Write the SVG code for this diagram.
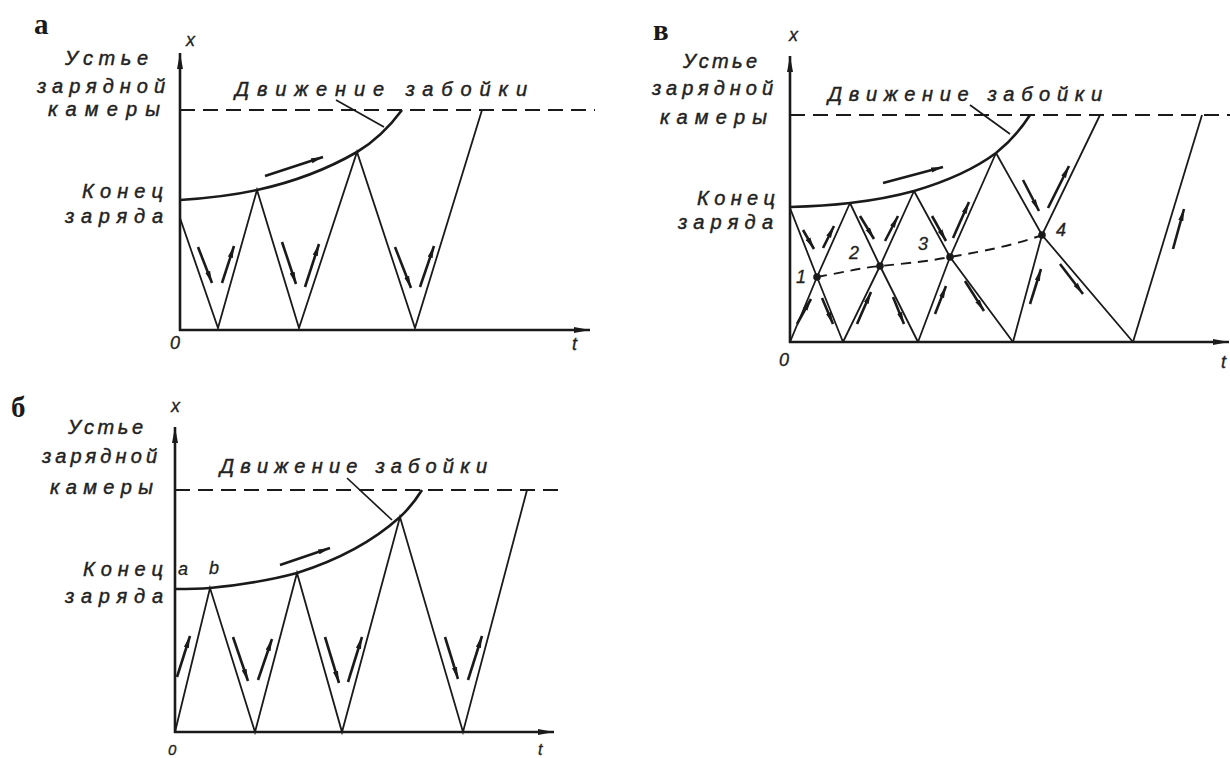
<svg xmlns="http://www.w3.org/2000/svg" width="1230" height="758" viewBox="0 0 1230 758">
<style>
  .bg{fill:#ffffff}
  .ax{stroke:#1a1a1a;stroke-width:2.6;fill:none;marker-end:url(#axh)}
  .dash{stroke:#1a1a1a;stroke-width:2.2;fill:none;stroke-dasharray:15 8}
  .cur{stroke:#1a1a1a;stroke-width:2.6;fill:none}
  .zz{stroke:#1a1a1a;stroke-width:1.8;fill:none;stroke-linejoin:miter}
  .ld{stroke:#1a1a1a;stroke-width:1.7;fill:none}
  .sa{stroke:#1a1a1a;stroke-width:2.6;fill:none;marker-end:url(#sah)}
  .dc{stroke:#1a1a1a;stroke-width:1.9;fill:none;stroke-dasharray:10 7}
  .dot{fill:#1a1a1a}
  .lbl{font-family:"Liberation Sans","DejaVu Sans",sans-serif;font-style:italic;font-size:20px;fill:#222222;stroke:#222222;stroke-width:0.45}
  .num{font-family:"Liberation Sans","DejaVu Sans",sans-serif;font-style:italic;font-size:18px;fill:#222222;stroke:#222222;stroke-width:0.3}
  .pan{font-family:"Liberation Serif","DejaVu Serif",serif;font-size:29px;font-weight:bold;fill:#1a1a1a}
</style>
<defs>
  <marker id="axh" markerUnits="userSpaceOnUse" markerWidth="16" markerHeight="8" refX="16" refY="4" orient="auto">
    <path d="M0,1 L16,4 L0,7 z" fill="#1a1a1a"/>
  </marker>
  <marker id="sah" markerUnits="userSpaceOnUse" markerWidth="12" markerHeight="6" refX="12" refY="3" orient="auto">
    <path d="M0,0.4 L12,3 L0,5.6 z" fill="#1a1a1a"/>
  </marker>
</defs>
<rect class="bg" x="0" y="0" width="1230" height="758"/>

<!-- Panel а -->
<g id="panel-a">
  <text class="pan" x="34" y="34">а</text>
  <text class="num" x="186" y="46">x</text>
  <text class="lbl" x="65" y="65" textLength="83" lengthAdjust="spacing">Устье</text>
  <text class="lbl" x="37" y="93" textLength="128" lengthAdjust="spacing">зарядной</text>
  <text class="lbl" x="48" y="116" textLength="112" lengthAdjust="spacing">камеры</text>
  <text class="lbl" x="82" y="198" textLength="81" lengthAdjust="spacing">Конец</text>
  <text class="lbl" x="65" y="223" textLength="98" lengthAdjust="spacing">заряда</text>
  <text class="lbl" x="235" y="96" textLength="292" lengthAdjust="spacing">Движение  забойки</text>
  <text class="num" x="170" y="349">0</text>
  <text class="num" x="572" y="350">t</text>
  <line class="ax" x1="180" y1="331" x2="180" y2="53"/>
  <line class="ax" x1="179" y1="330" x2="590" y2="330"/>
  <line class="dash" x1="180" y1="110" x2="595" y2="110"/>
  <path class="cur" d="M180,200 Q225,197 257,190 Q312,178 357,152 Q382,137 402,110"/>
  <polyline class="zz" points="180,218 218,328 257,190 299,328 357,152 415,328 482,110"/>
  <line class="ld" x1="336" y1="100" x2="384" y2="127"/>
  <line class="sa" x1="265" y1="176" x2="323" y2="157"/>
  <line class="sa" x1="198" y1="247" x2="212" y2="283"/>
  <line class="sa" x1="222" y1="283" x2="234" y2="246"/>
  <line class="sa" x1="282" y1="242" x2="296" y2="284"/>
  <line class="sa" x1="305" y1="287" x2="319" y2="244"/>
  <line class="sa" x1="395" y1="247" x2="411" y2="288"/>
  <line class="sa" x1="420" y1="287" x2="434" y2="246"/>
</g>

<!-- Panel б -->
<g id="panel-b">
  <text class="pan" x="11" y="417">б</text>
  <text class="num" x="171" y="412">x</text>
  <text class="lbl" x="68" y="434" textLength="75" lengthAdjust="spacing">Устье</text>
  <text class="lbl" x="42" y="463" textLength="115" lengthAdjust="spacing">зарядной</text>
  <text class="lbl" x="50" y="494" textLength="103" lengthAdjust="spacing">камеры</text>
  <text class="lbl" x="83" y="576" textLength="80" lengthAdjust="spacing">Конец</text>
  <text class="lbl" x="65" y="603" textLength="98" lengthAdjust="spacing">заряда</text>
  <text class="lbl" x="220" y="473" textLength="267" lengthAdjust="spacing">Движение  забойки</text>
  <text class="num" x="178" y="575">a</text>
  <text class="num" x="209" y="574">b</text>
  <text class="num" x="168" y="755" style="font-size:15px">0</text>
  <text class="num" x="538" y="755" style="font-size:16px">t</text>
  <line class="ax" x1="175" y1="733" x2="175" y2="427"/>
  <line class="ax" x1="174" y1="732" x2="554" y2="732"/>
  <line class="dash" x1="175" y1="490" x2="565" y2="490"/>
  <path class="cur" d="M175,589 C195,589 204,588.5 210,588 Q260,583 297,573 Q360,553 400,517 Q412,506 422,490"/>
  <polyline class="zz" points="175,732 210,588 255,732 297,573 342,732 400,517 463,732 527,490"/>
  <line class="ld" x1="347" y1="478" x2="392" y2="520"/>
  <line class="sa" x1="280" y1="565" x2="330" y2="548"/>
  <line class="sa" x1="177" y1="677" x2="190" y2="636"/>
  <line class="sa" x1="233" y1="637" x2="248" y2="681"/>
  <line class="sa" x1="258" y1="680" x2="272" y2="639"/>
  <line class="sa" x1="325" y1="637" x2="339" y2="683"/>
  <line class="sa" x1="348" y1="682" x2="362" y2="637"/>
  <line class="sa" x1="445" y1="637" x2="458" y2="679"/>
  <line class="sa" x1="468" y1="680" x2="482" y2="636"/>
</g>

<!-- Panel в -->
<g id="panel-v">
  <text class="pan" x="653" y="40">в</text>
  <text class="num" x="789" y="41">x</text>
  <text class="lbl" x="683" y="68" textLength="74" lengthAdjust="spacing">Устье</text>
  <text class="lbl" x="652" y="95" textLength="121" lengthAdjust="spacing">зарядной</text>
  <text class="lbl" x="660" y="124" textLength="107" lengthAdjust="spacing">камеры</text>
  <text class="lbl" x="697" y="205" textLength="78" lengthAdjust="spacing">Конец</text>
  <text class="lbl" x="678" y="229" textLength="95" lengthAdjust="spacing">заряда</text>
  <text class="lbl" x="828" y="101" textLength="274" lengthAdjust="spacing">Движение  забойки</text>
  <text class="num" x="779" y="366">0</text>
  <text class="num" x="1221" y="368">t</text>
  <line class="ax" x1="790" y1="343" x2="790" y2="56"/>
  <line class="ax" x1="789" y1="342" x2="1229" y2="342"/>
  <line class="dash" x1="790" y1="115" x2="1230" y2="115"/>
  <path class="cur" d="M790,207 Q825,206 850,203 Q885,199 914,191 Q965,176 996,153 Q1016,137 1030,115"/>
  <path class="dc" d="M817,277 C845,272 860,268 880,266 C910,263 930,261 950,257 C985,251 1015,245 1042,235"/>
  <g class="zz">
    <polyline points="790,342 817,277 850,203"/>
    <polyline points="790,208 817,277 843,342"/>
    <polyline points="843,342 880,266 914,191"/>
    <polyline points="850,203 880,266 918,342"/>
    <polyline points="918,342 950,257 996,153"/>
    <polyline points="914,191 950,257 1013,342"/>
    <polyline points="1013,342 1042,235 1100,115"/>
    <polyline points="996,153 1042,235 1133,342"/>
    <polyline points="1133,342 1202,115"/>
  </g>
  <circle class="dot" cx="817" cy="277" r="3.8"/>
  <circle class="dot" cx="880" cy="266" r="3.8"/>
  <circle class="dot" cx="950" cy="257" r="3.8"/>
  <circle class="dot" cx="1042" cy="235" r="3.8"/>
  <text class="num" x="796" y="283">1</text>
  <text class="num" x="849" y="259">2</text>
  <text class="num" x="918" y="250">3</text>
  <text class="num" x="1056" y="236">4</text>
  <line class="ld" x1="970" y1="105" x2="1010" y2="134"/>
  <line class="sa" x1="883" y1="183" x2="943" y2="167"/>
  <line class="sa" x1="803" y1="230" x2="814" y2="249"/>
  <line class="sa" x1="823" y1="248" x2="834" y2="226"/>
  <line class="sa" x1="797" y1="324" x2="811" y2="299"/>
  <line class="sa" x1="822" y1="298" x2="833" y2="324"/>
  <line class="sa" x1="860" y1="216" x2="874" y2="239"/>
  <line class="sa" x1="885" y1="241" x2="898" y2="216"/>
  <line class="sa" x1="857" y1="324" x2="871" y2="292"/>
  <line class="sa" x1="893" y1="297" x2="904" y2="324"/>
  <line class="sa" x1="932" y1="216" x2="946" y2="241"/>
  <line class="sa" x1="953" y1="238" x2="969" y2="202"/>
  <line class="sa" x1="935" y1="314" x2="946" y2="286"/>
  <line class="sa" x1="965" y1="281" x2="984" y2="311"/>
  <line class="sa" x1="1023" y1="180" x2="1039" y2="211"/>
  <line class="sa" x1="1048" y1="208" x2="1069" y2="166"/>
  <line class="sa" x1="1030" y1="304" x2="1041" y2="269"/>
  <line class="sa" x1="1060" y1="264" x2="1083" y2="294"/>
  <line class="sa" x1="1173" y1="249" x2="1184" y2="209"/>
</g>
</svg>
